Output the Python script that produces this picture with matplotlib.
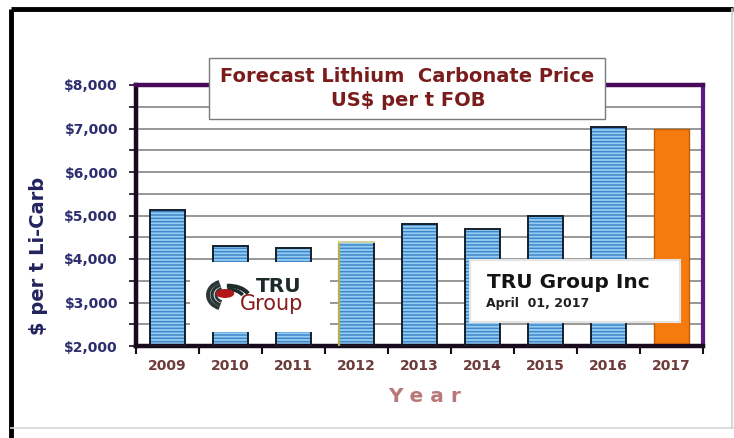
import matplotlib
matplotlib.use("Agg")
import matplotlib.pyplot as plt
from matplotlib.patches import Rectangle, Arc, Ellipse
import numpy as np

years = ["2009", "2010", "2011", "2012", "2013", "2014", "2015", "2016", "2017"]
prices = [5130, 4300, 4250, 4400, 4800, 4690, 5000, 7030, 7000]
forecast_year = "2017"
y_ticks = [2000, 3000, 4000, 5000, 6000, 7000, 8000]
y_tick_labels = ["$2,000", "$3,000", "$4,000", "$5,000", "$6,000", "$7,000", "$8,000"]

plt.rcParams["font.family"] = ["DejaVu Sans"]
plt.rcParams["hatch.linewidth"] = 1.1

W, H = 734, 438
fig = plt.figure(figsize=(W / 100, H / 100), dpi=100)
fig.patch.set_facecolor("white")


def fx(px):
    return px / W


def fy(py):
    return 1 - py / H


# outer frame
frame = fig.add_axes([0, 0, 1, 1], zorder=-5)
frame.set_xlim(0, W)
frame.set_ylim(H, 0)
frame.axis("off")
frame.plot([11, 11], [H, 9], color="black", lw=3.5, solid_capstyle="butt")
frame.plot([11, 733], [9, 9], color="black", lw=3.5, solid_capstyle="butt")
frame.plot([11, 733], [428, 428], color="#d8d8d8", lw=1.2)
frame.plot([732, 732], [9, 428], color="#d0d0d0", lw=1.2)

ax = fig.add_axes([fx(136), fy(346), fx(703) - fx(136), fy(85) - fy(346)])
x = np.arange(len(years))
ax.set_xlim(-0.5, len(years) - 0.5)
ax.set_ylim(2000, 8000)

# grid every $500
for gv in np.arange(2500, 8000, 500):
    ax.axhline(gv, color="#7a7a7a", lw=1.1, zorder=0)

bw = 0.56
base = 2000
for xi, p, yr in zip(x, prices, years):
    h = p - base
    if yr == forecast_year:
        ax.bar(xi, h, bw, bottom=base, color="#f57b0e", edgecolor="#c25e08",
               lw=1.0, zorder=2)
    else:
        ax.bar(xi, h, bw, bottom=base, color="#95cdf4", edgecolor="#3f86c8",
               hatch="-----", lw=0, zorder=2)
        ax.bar(xi, h, bw, bottom=base, fill=False, edgecolor="#14202c", lw=1.4, zorder=3)
        if yr == "2012":
            # olive highlight on the left edge of this bar
            ax.plot([xi - bw / 2, xi - bw / 2], [base, p], color="#b8b050", lw=1.6, zorder=4)
            ax.plot([xi - bw / 2, xi + bw / 2], [p, p], color="#d8d8a0", lw=1.4, zorder=4)

# spines
for s in ["left", "bottom"]:
    ax.spines[s].set_linewidth(3.2)
    ax.spines[s].set_color("#1a0a1e")
ax.spines["top"].set_linewidth(3.2)
ax.spines["top"].set_color("#4a0a5a")
ax.spines["right"].set_linewidth(3.0)
ax.spines["right"].set_color("#5a1a80")
ax.axvline(-0.5 + 0.02, color="#f0a0f0", lw=1.0, zorder=1)

ax.set_yticks(y_ticks)
ax.set_yticklabels(y_tick_labels, fontsize=10, fontweight="bold", color="#2d2d70")
ax.set_yticks(np.arange(2500, 8000, 1000), minor=True)
ax.tick_params(axis="y", which="both", direction="out", length=5, width=1.2,
               color="#1a0a1e", pad=8)

ax.set_xticks(x)
ax.set_xticklabels(years, fontsize=10, fontweight="bold", color="#6e3a3a")
ax.set_xticks(np.arange(-0.5, len(years), 1.0), minor=True)
ax.tick_params(axis="x", which="major", length=0, pad=9)
ax.tick_params(axis="x", which="minor", direction="out", length=6, width=1.5,
               color="#1a0a1e")

# axis titles
fig.text(fx(39), fy(256), "$ per t Li-Carb", rotation=90, ha="center", va="center",
         fontsize=14, fontweight="bold", color="#23235e")
fig.text(fx(425), fy(397), "Y e a r", ha="center", va="center",
         fontsize=14.5, fontweight="bold", color="#b87878")

# title box
fig.patches.append(Rectangle((fx(209), fy(119)), fx(605) - fx(209), fy(58) - fy(119),
                             transform=fig.transFigure, facecolor="white",
                             edgecolor="#7a7a7a", lw=1.0, zorder=5))
fig.text(fx(407), fy(76), "Forecast Lithium  Carbonate Price", ha="center", va="center",
         fontsize=14, fontweight="bold", color="#7a1c1c", zorder=6)
fig.text(fx(408), fy(100), "US$ per t FOB", ha="center", va="center",
         fontsize=14, fontweight="bold", color="#7a1c1c", zorder=6)

# company note box
fig.patches.append(Rectangle((fx(470), fy(322)), fx(680) - fx(470), fy(260) - fy(322),
                             transform=fig.transFigure, facecolor="white",
                             edgecolor="#e4e4e4", lw=1.5, zorder=5))
fig.text(fx(487), fy(282), "TRU Group Inc", ha="left", va="center",
         fontsize=14.5, fontweight="bold", color="#141414", zorder=6)
fig.text(fx(486), fy(304), "April  01, 2017", ha="left", va="center",
         fontsize=9, fontweight="bold", color="#202020", zorder=6)

# logo panel
fig.patches.append(Rectangle((fx(190), fy(332)), fx(330) - fx(190), fy(262) - fy(332),
                             transform=fig.transFigure, facecolor="white",
                             edgecolor="none", zorder=5))
logo = fig.add_axes([fx(190), fy(332), fx(330) - fx(190), fy(262) - fy(332)], zorder=6)
logo.set_xlim(190, 330)
logo.set_ylim(262, 332)
logo.invert_yaxis()
logo.axis("off")
logo.patch.set_alpha(0)
# left "C" swooshes
for r, lw in [(16, 2.8), (12, 2.4), (8, 2.0)]:
    logo.add_patch(Arc((224, 295), r * 2.0, r * 1.7, theta1=110, theta2=250,
                       color="#2a3838", lw=lw))
# upper swooshes reaching toward the lettering
for r, lw in [(22, 3.0), (16, 2.6)]:
    logo.add_patch(Arc((228, 299), r * 2.0, r * 1.2, theta1=265, theta2=345,
                       color="#1e2c2c", lw=lw))
logo.add_patch(Ellipse((225, 293.5), 17, 7.5, color="#b01818", zorder=3))
logo.text(279, 291.5, "TRU", ha="center", va="baseline", fontsize=14.5, fontweight="bold",
          color="#1e2a2a")
logo.text(272, 310.5, "Group", ha="center", va="baseline", fontsize=15,
          color="#8a1a1a")

fig.savefig("out.png", dpi=100, facecolor="white")
